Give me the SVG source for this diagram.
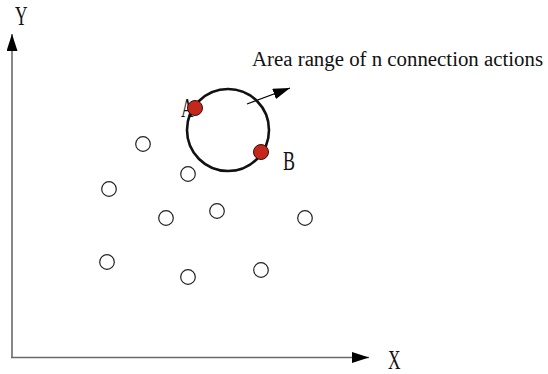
<svg xmlns="http://www.w3.org/2000/svg" width="548" height="374" viewBox="0 0 548 374">
<defs>
<style>
.axis{stroke:#6a6a6a;stroke-width:1.6;fill:none}
.pt{fill:#fff;stroke:#222;stroke-width:1.2}
.sel{fill:#c4281c;stroke:#3a0a05;stroke-width:1}
.lbl{font-family:'Liberation Serif','Times New Roman','DejaVu Serif',serif;font-size:28px;fill:#111}
.title{font-family:'Liberation Serif','Times New Roman','DejaVu Serif',serif;font-size:20.8px;fill:#111}
</style>
<marker id="ah" markerWidth="18" markerHeight="11" refX="17" refY="5.5" orient="auto" markerUnits="userSpaceOnUse">
<path d="M0,0 L17,5.5 L0,11 Z" fill="#000"/>
</marker>
</defs>
<rect width="548" height="374" fill="#fff"/>
<g id="connectors">
<line class="axis" x1="12" y1="358" x2="12" y2="34" marker-end="url(#ah)"/>
<line class="axis" x1="11" y1="357.5" x2="369" y2="357.5" marker-end="url(#ah)"/>
<line x1="247" y1="104" x2="290" y2="88" stroke="#000" stroke-width="1.3" marker-end="url(#ah)"/>
</g>
<g id="axis-labels">
<text class="lbl" transform="translate(15,25) scale(0.62,1)">Y</text>
<text class="lbl" transform="translate(388,369) scale(0.62,1)">X</text>
</g>
<g id="title">
<text class="title" x="252" y="66" textLength="291" lengthAdjust="spacingAndGlyphs">Area range of n connection actions</text>
</g>
<g id="range-circle">
<circle cx="228" cy="130" r="41" fill="none" stroke="#111" stroke-width="2.6"/>
</g>
<g id="node-A">
<text class="lbl" transform="translate(181,117) scale(0.62,1)">A</text>
<circle class="sel" cx="195" cy="108" r="7.5"/>
</g>
<g id="node-B">
<circle class="sel" cx="261" cy="152" r="7.5"/>
<text class="lbl" transform="translate(283,170) scale(0.64,1)">B</text>
</g>
<g id="nodes">
<circle id="n1" class="pt" cx="143" cy="144" r="7.3"/>
<circle id="n2" class="pt" cx="188" cy="174" r="7.3"/>
<circle id="n3" class="pt" cx="109" cy="189" r="7.3"/>
<circle id="n4" class="pt" cx="166" cy="218" r="7.3"/>
<circle id="n5" class="pt" cx="217" cy="211" r="7.3"/>
<circle id="n6" class="pt" cx="305" cy="218" r="7.3"/>
<circle id="n7" class="pt" cx="107" cy="262" r="7.3"/>
<circle id="n8" class="pt" cx="188" cy="277" r="7.3"/>
<circle id="n9" class="pt" cx="261" cy="270" r="7.3"/>
</g>
</svg>
